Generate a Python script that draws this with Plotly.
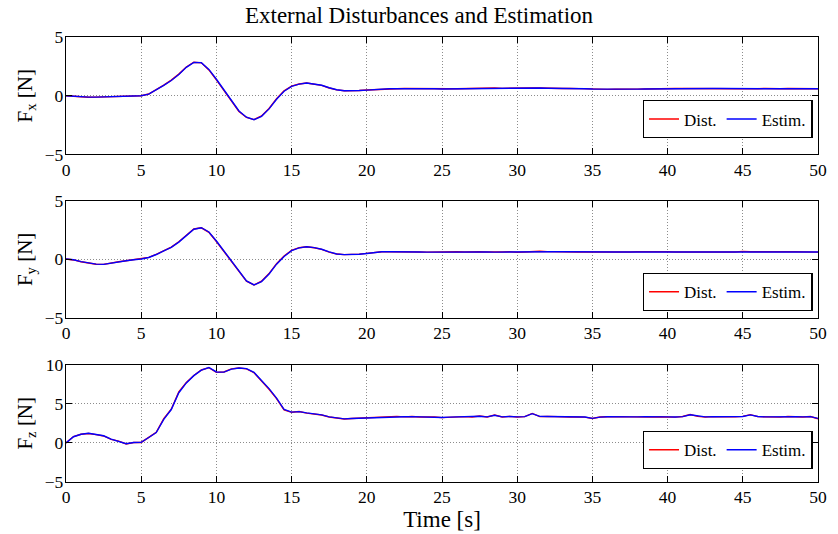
import plotly.graph_objects as go

# time samples (s)
t = [i * 0.5 for i in range(101)]

fx_dist = [
    0.0, -0.05, -0.12, -0.13, -0.12, -0.1, -0.06, -0.03, -0.02, -0.01,
    0.0, 0.15, 0.5, 0.9, 1.33, 1.84, 2.45, 2.85, 2.8, 2.2,
    1.35, 0.45, -0.5, -1.34, -1.85, -2.03, -1.72, -1.08, -0.25, 0.42,
    0.82, 1.0, 1.08, 0.98, 0.88, 0.66, 0.5, 0.42, 0.41, 0.44,
    0.49, 0.53, 0.56, 0.6, 0.6, 0.61, 0.6, 0.58, 0.59, 0.6,
    0.57, 0.59, 0.6, 0.62, 0.61, 0.6, 0.63, 0.66, 0.63, 0.65,
    0.66, 0.64, 0.67, 0.66, 0.63, 0.64, 0.62, 0.63, 0.6, 0.59,
    0.57, 0.55, 0.54, 0.55, 0.54, 0.55, 0.56, 0.58, 0.6, 0.61,
    0.6, 0.62, 0.61, 0.6, 0.64, 0.62, 0.6, 0.61, 0.6, 0.59,
    0.6, 0.58, 0.6, 0.62, 0.58, 0.6, 0.61, 0.6, 0.61, 0.6,
    0.59,
]
fx_est = [
    0.0, -0.06, -0.12, -0.12, -0.12, -0.09, -0.06, -0.03, -0.02, -0.01,
    0.0, 0.13, 0.47, 0.88, 1.3, 1.8, 2.42, 2.84, 2.82, 2.24,
    1.4, 0.5, -0.45, -1.3, -1.83, -2.04, -1.75, -1.12, -0.3, 0.38,
    0.8, 0.99, 1.08, 0.99, 0.89, 0.68, 0.51, 0.43, 0.41, 0.44,
    0.48, 0.53, 0.56, 0.59, 0.6, 0.61, 0.6, 0.59, 0.59, 0.6,
    0.58, 0.59, 0.6, 0.61, 0.61, 0.61, 0.62, 0.65, 0.64, 0.65,
    0.65, 0.65, 0.66, 0.66, 0.64, 0.64, 0.62, 0.62, 0.61, 0.59,
    0.57, 0.56, 0.55, 0.55, 0.55, 0.55, 0.56, 0.58, 0.59, 0.6,
    0.6, 0.61, 0.61, 0.61, 0.63, 0.62, 0.61, 0.61, 0.6, 0.6,
    0.6, 0.59, 0.6, 0.61, 0.59, 0.6, 0.6, 0.6, 0.61, 0.6,
    0.6,
]

fy_dist = [
    0.03, -0.05, -0.2, -0.33, -0.42, -0.43, -0.3, -0.2, -0.12, -0.03,
    0.03, 0.17, 0.43, 0.75, 1.04, 1.5, 2.08, 2.58, 2.68, 2.3,
    1.52, 0.68, -0.17, -1.07, -1.86, -2.18, -1.86, -1.21, -0.37, 0.28,
    0.76, 0.99, 1.07, 0.99, 0.85, 0.62, 0.45, 0.4, 0.39, 0.44,
    0.51, 0.58, 0.65, 0.64, 0.62, 0.63, 0.6, 0.62, 0.61, 0.63,
    0.64, 0.62, 0.65, 0.63, 0.66, 0.64, 0.62, 0.6, 0.62, 0.65,
    0.6, 0.63, 0.67, 0.69, 0.66, 0.64, 0.65, 0.63, 0.62, 0.63,
    0.62, 0.64, 0.63, 0.62, 0.64, 0.63, 0.65, 0.66, 0.63, 0.62,
    0.64, 0.62, 0.63, 0.64, 0.62, 0.63, 0.64, 0.66, 0.63, 0.62,
    0.68, 0.64, 0.63, 0.65, 0.64, 0.62, 0.64, 0.65, 0.63, 0.62,
    0.61,
]
fy_est = [
    0.03, -0.04, -0.19, -0.32, -0.41, -0.43, -0.31, -0.2, -0.12, -0.03,
    0.03, 0.16, 0.41, 0.73, 1.02, 1.47, 2.05, 2.56, 2.69, 2.33,
    1.56, 0.72, -0.12, -1.03, -1.83, -2.18, -1.89, -1.25, -0.41, 0.25,
    0.74, 0.98, 1.07, 1.0, 0.86, 0.64, 0.46, 0.4, 0.39, 0.43,
    0.5, 0.57, 0.64, 0.64, 0.62, 0.62, 0.61, 0.62, 0.61, 0.62,
    0.63, 0.63, 0.64, 0.63, 0.65, 0.64, 0.63, 0.61, 0.62, 0.64,
    0.61, 0.63, 0.66, 0.68, 0.66, 0.65, 0.64, 0.63, 0.62, 0.63,
    0.62, 0.63, 0.63, 0.63, 0.63, 0.64, 0.65, 0.65, 0.63, 0.63,
    0.63, 0.63, 0.63, 0.63, 0.63, 0.63, 0.64, 0.65, 0.63, 0.63,
    0.66, 0.64, 0.64, 0.64, 0.64, 0.63, 0.64, 0.64, 0.63, 0.62,
    0.62,
]

fz_dist = [
    0.0, 0.8, 1.1, 1.2, 1.05, 0.88, 0.45, 0.22, -0.15, 0.05,
    0.05, 0.7, 1.35, 3.1, 4.3, 6.5, 7.7, 8.6, 9.3, 9.6,
    9.0, 9.05, 9.45, 9.55, 9.45, 8.95, 7.9, 6.85, 5.65, 4.2,
    3.9, 4.0, 3.8, 3.72, 3.55, 3.3, 3.13, 3.05, 3.1, 3.15,
    3.15, 3.22, 3.28, 3.35, 3.38, 3.32, 3.36, 3.3, 3.34, 3.3,
    3.22, 3.28, 3.32, 3.35, 3.3, 3.42, 3.3, 3.55, 3.3, 3.38,
    3.3, 3.34, 3.76, 3.35, 3.38, 3.33, 3.36, 3.3, 3.32, 3.28,
    3.1, 3.3, 3.34, 3.3, 3.35, 3.32, 3.3, 3.36, 3.3, 3.34,
    3.3, 3.28, 3.36, 3.62, 3.38, 3.3, 3.35, 3.32, 3.3, 3.34,
    3.38, 3.6, 3.35, 3.3, 3.34, 3.28, 3.36, 3.32, 3.3, 3.36,
    3.08,
]
fz_est = [
    0.0, 0.78, 1.1, 1.22, 1.06, 0.9, 0.47, 0.22, -0.12, 0.05,
    0.06, 0.68, 1.32, 3.0, 4.25, 6.4, 7.65, 8.58, 9.28, 9.62,
    9.05, 9.03, 9.42, 9.56, 9.48, 9.0, 7.98, 6.92, 5.72, 4.28,
    3.92, 3.98, 3.82, 3.73, 3.57, 3.32, 3.15, 3.06, 3.1, 3.14,
    3.16, 3.21, 3.27, 3.34, 3.37, 3.33, 3.35, 3.31, 3.33, 3.31,
    3.24, 3.28, 3.31, 3.34, 3.31, 3.4, 3.32, 3.52, 3.32, 3.37,
    3.31, 3.35, 3.72, 3.38, 3.37, 3.34, 3.35, 3.31, 3.31, 3.29,
    3.13, 3.28, 3.33, 3.31, 3.34, 3.32, 3.31, 3.35, 3.31, 3.33,
    3.31, 3.29, 3.35, 3.58, 3.4, 3.31, 3.34, 3.33, 3.31, 3.33,
    3.37, 3.57, 3.37, 3.31, 3.33, 3.29, 3.35, 3.33, 3.31, 3.35,
    3.12,
]

x_ticks = [0, 5, 10, 15, 20, 25, 30, 35, 40, 45, 50]
y_ticks_xy = [-5, 0, 5]
y_ticks_z = [-5, 0, 5, 10]

title_text = "External Disturbances and Estimation"
x_title = "Time [s]"
y_titles = ["F<sub>x</sub> [N]", "F<sub>y</sub> [N]", "F<sub>z</sub> [N]"]
series_names = ["Dist.", "Estim."]

FONT = "Liberation Serif"

fig = go.Figure()

data_rows = [(fx_dist, fx_est), (fy_dist, fy_est), (fz_dist, fz_est)]
legend_ids = ["legend", "legend2", "legend3"]
for i, (d, e) in enumerate(data_rows):
    suffix = "" if i == 0 else str(i + 1)
    fig.add_trace(go.Scatter(x=t, y=d, mode="lines", name=series_names[0],
                             line=dict(color="#ff0000", width=1.4),
                             xaxis="x" + suffix, yaxis="y" + suffix,
                             legend=legend_ids[i]))
    fig.add_trace(go.Scatter(x=t, y=e, mode="lines", name=series_names[1],
                             line=dict(color="#0000ff", width=1.4),
                             xaxis="x" + suffix, yaxis="y" + suffix,
                             legend=legend_ids[i]))

domains = [[0.736, 1.0], [0.3683, 0.6324], [0.0, 0.264]]
y_ranges = [[-5, 5], [-5, 5], [-5, 10]]
y_tickss = [y_ticks_xy, y_ticks_xy, y_ticks_z]

axis_common = dict(
    showline=True, linecolor="black", linewidth=1.3, mirror="ticks",
    ticks="inside", ticklen=6, tickwidth=1, tickcolor="black",
    showgrid=True, gridcolor="#8c8c8c", gridwidth=1, griddash="1px,2px",
    zeroline=False, tickfont=dict(family=FONT, size=17.5, color="black"),
)

layout = dict(
    width=838, height=534,
    margin=dict(l=66, r=11, t=37, b=49),
    paper_bgcolor="white", plot_bgcolor="white",
    font=dict(family=FONT, color="black"),
    title=dict(text=title_text, x=0.5, xanchor="center", y=0.972, yanchor="middle",
               font=dict(family=FONT, size=23, color="black")),
)

legend_tops = [0.858, 0.470, 0.115]
for i in range(3):
    suffix = "" if i == 0 else str(i + 1)
    xa = dict(axis_common)
    xa.update(range=[0, 50], tickvals=x_ticks, domain=[0, 1],
              anchor="y" + suffix, ticklabelstandoff=-1)
    if i == 2:
        xa["title"] = dict(text=x_title, font=dict(family=FONT, size=23, color="black"),
                           standoff=0)
    ya = dict(axis_common)
    ya.update(range=y_ranges[i], tickvals=y_tickss[i], domain=domains[i],
              anchor="x" + suffix, ticklabelstandoff=-2,
              title=dict(text=y_titles[i], font=dict(family=FONT, size=21, color="black"),
                         standoff=6))
    layout["xaxis" + suffix] = xa
    layout["yaxis" + suffix] = ya
    layout[legend_ids[i]] = dict(
        x=0.993, xanchor="right", y=legend_tops[i], yanchor="top",
        orientation="h", bgcolor="white", bordercolor="black", borderwidth=1.3,
        font=dict(family=FONT, size=17, color="black"),
        itemwidth=30, tracegroupgap=0, itemclick=False,
    )

fig.update_layout(**layout)
fig.write_html("out.html")
